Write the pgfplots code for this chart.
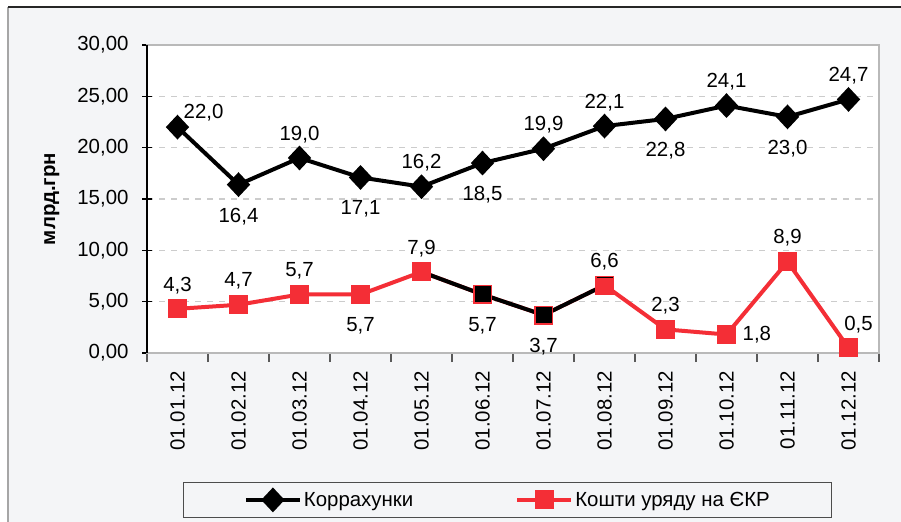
\documentclass[border=0pt]{standalone}
\usepackage{fontspec}
\setmainfont{Liberation Sans}
\usepackage{pgfplots}
\pgfplotsset{compat=1.18}
\definecolor{bg}{HTML}{F4F5F7}
\definecolor{myred}{HTML}{F42E36}
\newcommand{\cf}{\fontsize{20.5}{23}\selectfont}
\pgfplotsset{lbl/.style 2 args={draw=none, mark=none, forget plot, nodes near coords, point meta=explicit symbolic,
  every node near coord/.append style={anchor=#1, font=\cf, text=black, #2}}}

\begin{document}
\begin{tikzpicture}
\useasboundingbox (0bp,0bp) rectangle (901bp,522bp);
\fill[white] (0bp,0bp) rectangle (901bp,522bp);
\fill[bg] (8bp,0bp) rectangle (901bp,515bp);
\draw[gray!70, line width=1.2bp] (8bp,0bp) -- (8bp,515bp);
\draw[black!85, line width=2.5bp] (8bp,515bp) -- (901bp,515bp);
\begin{axis}[
  at={(147bp,169bp)}, anchor=south west,
  scale only axis, width=732bp, height=308bp,
  xmin=-0.5, xmax=11.5, ymin=0, ymax=30,
  clip=false,
  axis background/.style={fill=white},
  axis line style={gray!55, line width=1.2bp},
  ytick={0,5,...,30},
  xtick={0,...,11},
  xticklabels={01.01.12,01.02.12,01.03.12,01.04.12,01.05.12,01.06.12,01.07.12,01.08.12,01.09.12,01.10.12,01.11.12,01.12.12},
  minor xtick={-0.5,0.5,...,11.5},
  tick pos=left,
  tick align=center,
  major x tick style={draw=none},
  minor x tick style={gray!70!black, line width=1.2bp, yshift=-4.5bp},
  minor tick length=9bp,
  major y tick style={black, line width=1.2bp},
  major tick length=10bp,
  ymajorgrids,
  major grid style={gray!40, dash pattern=on 6bp off 6bp, line width=1.2bp},
  /pgf/number format/assume math mode=true,
  yticklabel style={font=\cf, xshift=-10bp, /pgf/number format/.cd, fixed, fixed zerofill, precision=2, use comma},
  xticklabel style={font=\cf, rotate=90, anchor=east, inner xsep=13bp},
  ylabel={\bfseries млрд.грн},
  ylabel style={font=\cf, at={(axis description cs:-0.130,0.5)}, anchor=center},
  legend image code/.code={\draw[mark repeat=2,mark phase=2,#1] plot coordinates {(0bp,0bp) (27bp,0bp) (54bp,0bp)};},
  legend style={at={(axis description cs:0.493,-0.477)}, anchor=center,
    draw=gray!60!black, fill=bg, line width=1bp, font=\cf,
    inner xsep=60bp, inner ysep=8bp,
    legend columns=2,
    /tikz/every even column/.append style={column sep=100bp}},
  legend cell align=left,
]
\addplot[black, line width=4bp, mark=diamond*, mark size=9.5bp, mark options={solid, xscale=1.25}]
  table {
x y
0 22.0
1 16.4
2 19.0
3 17.1
4 16.2
5 18.5
6 19.9
7 22.1
8 22.8
9 24.1
10 23.0
11 24.7
};
\addlegendentry{Коррахунки}
\addplot[myred, line width=4bp, mark=square*, mark size=7.5bp, mark options={solid}]
  table {
x y
0 4.3
1 4.7
2 5.7
3 5.7
4 7.9
5 5.7
6 3.7
7 6.6
8 2.3
9 1.8
10 8.9
11 0.5
};
\addlegendentry{Кошти уряду на ЄКР}
\addplot[black, line width=4bp, mark=square*, mark size=6bp, forget plot]
  table {
x y
4 7.9
5 5.7
6 3.7
7 6.6
};
\addplot[only marks, myred, mark=square*, mark size=7.5bp, forget plot]
  table {
x y
4 7.9
7 6.6
};
% labels: black series
\addplot[lbl={south}{inner xsep=2bp, inner ysep=15bp}] table[meta=l] {
x y l
2 19.0 19,0
4 16.2 16,2
6 19.9 19,9
7 22.1 22,1
9 24.1 24,1
11 24.7 24,7
};
\addplot[lbl={north}{inner xsep=2bp, inner ysep=23bp}] table[meta=l] {
x y l
1 16.4 16,4
3 17.1 17,1
5 18.5 18,5
8 22.8 22,8
10 23.0 23,0
};
\addplot[lbl={south west}{inner sep=6bp}] table[meta=l] {
x y l
0 22.0 22,0
};
% labels: red series
\addplot[lbl={south}{inner xsep=2bp, inner ysep=15bp}] table[meta=l] {
x y l
0 4.3 4,3
1 4.7 4,7
2 5.7 5,7
4 7.9 7,9
7 6.6 6,6
8 2.3 2,3
10 8.9 8,9
};
\addplot[lbl={north}{inner xsep=2bp, inner ysep=23bp}] table[meta=l] {
x y l
3 5.7 5,7
5 5.7 5,7
6 3.7 3,7
};
\addplot[lbl={west}{inner xsep=16bp}] table[meta=l] {
x y l
9 1.8 1,8
};
\addplot[lbl={south}{inner xsep=2bp, inner ysep=15bp, xshift=10bp}] table[meta=l] {
x y l
11 0.5 0,5
};
\end{axis}
\draw[black, line width=1.5bp] (147bp,169bp) -- (147bp,477bp);
\end{tikzpicture}
\end{document}
